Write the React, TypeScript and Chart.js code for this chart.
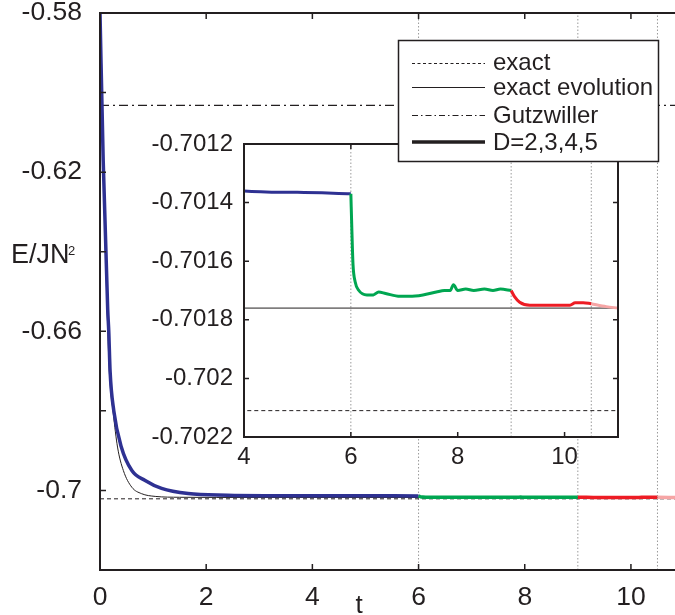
import React, { useEffect, useRef } from 'react';
import { Chart, registerables } from 'chart.js';
Chart.register(...registerables);

// ---------------- data ----------------
const tBlue = [0, 0.06, 0.145, 0.165, 0.19, 0.26, 0.4, 0.6, 0.85, 1.16, 1.66, 2.4, 3.3, 4, 5, 6];
const eBlue = [-0.58, -0.617, -0.6545, -0.66, -0.67, -0.68, -0.689, -0.695, -0.6975, -0.6995, -0.7008, -0.7012, -0.70133, -0.70136, -0.701365, -0.70137];

const tGreen = [6, 6.02, 6.04, 6.08, 6.15, 6.3, 6.42, 6.52, 6.65, 6.92, 7.1, 7.35, 7.6, 7.75, 7.86, 7.92, 8.0, 8.15, 8.3, 8.5, 8.66, 8.8, 9.0];
const eGreen = [-0.70137, -0.7015, -0.70161, -0.70167, -0.7017, -0.701715, -0.701715, -0.701705, -0.70171, -0.70172, -0.70172, -0.701715, -0.701705, -0.7017, -0.7017, -0.70168, -0.7017, -0.701695, -0.7017, -0.701695, -0.7017, -0.701695, -0.7017];

const tRed = [9.0, 9.06, 9.16, 9.35, 9.8, 10.1, 10.2, 10.35, 10.5];
const eRed = [-0.7017, -0.70172, -0.70174, -0.70175, -0.70175, -0.70175, -0.701742, -0.701742, -0.701745];

const tPink = [10.5, 10.78, 11.0];
const ePink = [-0.701745, -0.701755, -0.70176];

const tExactEvo = [0, 0.06, 0.14, 0.175, 0.25, 0.33, 0.44, 0.6, 0.78, 1.04, 1.5, 2.2, 11];
const eExactEvo = [-0.58, -0.618, -0.657, -0.67, -0.6806, -0.6891, -0.695, -0.6992, -0.7008, -0.7015, -0.70172, -0.70176, -0.70176];

const exactEnergy = -0.70211;
const gutzwillerEnergy = -0.6032;
const switchTimes = [6, 9, 10.5];

const mainXTicks = [0, 2, 4, 6, 8, 10];
const mainYTicks = [-0.72, -0.7, -0.68, -0.66, -0.64, -0.62, -0.6, -0.58];
const mainYLabels = ['', '-0.7', '', '-0.66', '', '-0.62', '', '-0.58'];

const insetXTicks = [4, 6, 8, 10];
const insetYTicks = [-0.7022, -0.702, -0.7018, -0.7016, -0.7014, -0.7012];
const insetYLabels = ['-0.7022', '-0.702', '-0.7018', '-0.7016', '-0.7014', '-0.7012'];

const legendLabels = ['exact', 'exact evolution', 'Gutzwiller', 'D=2,3,4,5'];

// ---------------- styles ----------------
const FONT = "'Liberation Sans', Arial, Helvetica, sans-serif";
const INK = '#231f20';
const BLUE = '#2e3192';
const GREEN = '#00a651';
const RED = '#ed1c24';
const PINK = '#f6a5a5';
const DOT = '#9a9a9a';

const pts = (t: number[], e: number[]) => t.map((x, i) => ({ x, y: e[i] }));

function buildDatasets(yMin: number, yMax: number, w: number) {
  const curve = (t: number[], e: number[], color: string, width: number, mono = true) => ({
    data: pts(t, e),
    borderColor: color,
    borderWidth: width,
    pointRadius: 0,
    fill: false,
    cubicInterpolationMode: mono ? 'monotone' : 'default',
    tension: 0,
  });
  const hline = (y: number, dash: number[], width: number) => ({
    data: [{ x: 0, y }, { x: 11, y }],
    borderColor: INK,
    borderWidth: width,
    borderDash: dash,
    pointRadius: 0,
    fill: false,
  });
  const vlines = switchTimes.map((s) => ({
    data: [{ x: s, y: yMin }, { x: s, y: yMax }],
    borderColor: DOT,
    borderWidth: 1,
    borderDash: [1.5, 2],
    pointRadius: 0,
    fill: false,
  }));
  return [
    curve(tPink, ePink, PINK, w),
    curve(tRed, eRed, RED, w),
    curve(tGreen, eGreen, GREEN, w),
    curve(tBlue, eBlue, BLUE, w),
    curve(tExactEvo, eExactEvo, INK, 1),
    hline(exactEnergy, [4, 3], 1),
    hline(gutzwillerEnergy, [9, 4, 2, 4], 1.3),
    ...vlines,
  ];
}

const framePlugin = {
  id: 'frame',
  beforeDatasetsDraw(chart: any, _a: any, opts: any) {
    if (!opts.fill) return;
    const { ctx, chartArea: a } = chart;
    ctx.save();
    ctx.fillStyle = '#ffffff';
    ctx.fillRect(a.left, a.top, a.right - a.left, a.bottom - a.top);
    ctx.restore();
  },
  afterDatasetsDraw(chart: any, _a: any, opts: any) {
    const { ctx, chartArea: a, scales } = chart;
    const x = scales.x;
    const y = scales.y;
    ctx.save();
    ctx.strokeStyle = INK;
    ctx.lineWidth = opts.lineWidth;
    ctx.lineCap = 'square';
    ctx.beginPath();
    ctx.moveTo(a.left, a.top);
    ctx.lineTo(a.left, a.bottom);
    ctx.lineTo(a.right + (opts.right ? 0 : 2), a.bottom);
    ctx.moveTo(a.left, a.top);
    ctx.lineTo(a.right + (opts.right ? 0 : 2), a.top);
    if (opts.right) {
      ctx.moveTo(a.right, a.top);
      ctx.lineTo(a.right, a.bottom);
    }
    ctx.stroke();
    const L = opts.tickLen;
    ctx.lineWidth = 1.5;
    ctx.lineCap = 'butt';
    ctx.beginPath();
    x.ticks.forEach((t: any) => {
      const px = x.getPixelForValue(t.value);
      ctx.moveTo(px, a.bottom);
      ctx.lineTo(px, a.bottom - L);
      ctx.moveTo(px, a.top);
      ctx.lineTo(px, a.top + L);
    });
    y.ticks.forEach((t: any) => {
      const py = y.getPixelForValue(t.value);
      ctx.moveTo(a.left, py);
      ctx.lineTo(a.left + L, py);
      if (opts.right) {
        ctx.moveTo(a.right, py);
        ctx.lineTo(a.right - L, py);
      }
    });
    ctx.stroke();
    ctx.restore();
  },
};

function makeConfig(p: {
  xMin: number; xMax: number; yMin: number; yMax: number;
  xTicks: number[]; yTicks: number[]; yLabels: string[];
  yWidth: number; xHeight: number; padTop: number; padRight: number;
  xPad: number; yPad: number; fontSize: number; fill: boolean; right: boolean;
  tickLen: number; lineW: number;
}) {
  return {
    type: 'line',
    data: { datasets: buildDatasets(p.yMin, p.yMax, p.lineW) },
    plugins: [framePlugin],
    options: {
      responsive: false,
      maintainAspectRatio: false,
      animation: false,
      events: [],
      layout: { padding: { top: p.padTop, right: p.padRight, left: 0, bottom: 0 } },
      plugins: {
        legend: { display: false },
        tooltip: { enabled: false },
        frame: { fill: p.fill, right: p.right, tickLen: p.tickLen, lineWidth: 2 },
      },
      scales: {
        x: {
          type: 'linear',
          min: p.xMin,
          max: p.xMax,
          grid: { display: false, drawTicks: false },
          border: { display: false },
          afterBuildTicks: (s: any) => { s.ticks = p.xTicks.map((v) => ({ value: v })); },
          afterFit: (s: any) => {
            s.height = p.xHeight;
            s.paddingLeft = 0; s.paddingRight = 0; s.paddingTop = 0; s.paddingBottom = 0;
          },
          ticks: {
            autoSkip: false,
            maxRotation: 0,
            padding: p.xPad,
            color: INK,
            font: { family: FONT, size: p.fontSize, lineHeight: 1 },
            callback: (v: any) => String(v),
          },
        },
        y: {
          type: 'linear',
          min: p.yMin,
          max: p.yMax,
          grid: { display: false, drawTicks: false },
          border: { display: false },
          afterBuildTicks: (s: any) => { s.ticks = p.yTicks.map((v) => ({ value: v })); },
          afterFit: (s: any) => {
            s.width = p.yWidth;
            s.paddingLeft = 0; s.paddingRight = 0; s.paddingTop = 0; s.paddingBottom = 0;
          },
          ticks: {
            autoSkip: false,
            padding: p.yPad,
            color: INK,
            font: { family: FONT, size: p.fontSize, lineHeight: 1 },
            callback: (v: any) => {
              const i = p.yTicks.findIndex((t) => Math.abs(t - v) < 1e-9);
              return i >= 0 ? p.yLabels[i] : '';
            },
          },
        },
      },
    },
  };
}

export default function App() {
  const mainRef = useRef<HTMLCanvasElement>(null);
  const insetRef = useRef<HTMLCanvasElement>(null);

  useEffect(() => {
    document.body.style.margin = '0';
    const main = new Chart(mainRef.current as any, makeConfig({
      xMin: 0, xMax: 10.83, yMin: -0.72, yMax: -0.58,
      xTicks: mainXTicks, yTicks: mainYTicks, yLabels: mainYLabels,
      yWidth: 100, xHeight: 45, padTop: 13, padRight: 0,
      xPad: 14, yPad: 18, fontSize: 26.5, fill: false, right: false,
      tickLen: 6, lineW: 3.5,
    }) as any);
    const inset = new Chart(insetRef.current as any, makeConfig({
      xMin: 4, xMax: 11, yMin: -0.7022, yMax: -0.7012,
      xTicks: insetXTicks, yTicks: insetYTicks, yLabels: insetYLabels,
      yWidth: 114, xHeight: 38, padTop: 19, padRight: 12,
      xPad: 8, yPad: 11, fontSize: 24, fill: true, right: true,
      tickLen: 5, lineW: 3,
    }) as any);
    return () => { main.destroy(); inset.destroy(); };
  }, []);

  const legendY = [63.5, 87.5, 115.5, 142];
  const textY = [69.5, 95, 122.5, 150];
  const dashes = ['3 2.5', undefined, '6 3 1.5 3', undefined];
  const widths = [1, 1, 1.2, 3.5];

  return (
    <div style={{ position: 'relative', width: 675, height: 615, overflow: 'hidden', background: '#fff' }}>
      <canvas ref={mainRef} width={675} height={615}
        style={{ position: 'absolute', left: 0, top: 0, width: 675, height: 615 }} />
      <canvas ref={insetRef} width={500} height={350}
        style={{ position: 'absolute', left: 130, top: 125, width: 500, height: 350 }} />
      <svg width={675} height={615} style={{ position: 'absolute', left: 0, top: 0, pointerEvents: 'none' }}>
        <rect x={398.5} y={40.5} width={260} height={121} fill="#fff" stroke={INK} strokeWidth={1.5} />
        {legendLabels.map((lab, i) => (
          <g key={lab}>
            <line x1={412} x2={485} y1={legendY[i]} y2={legendY[i]} stroke={INK}
              strokeWidth={widths[i]} strokeDasharray={dashes[i]} />
            <text x={493} y={textY[i]} fontFamily={FONT} fontSize={24} fill={INK}>{lab}</text>
          </g>
        ))}
        <text x={11} y={263} fontFamily={FONT} fontSize={27} fill={INK}>E/JN</text>
        <text x={68} y={255} fontFamily={FONT} fontSize={13} fill={INK}>2</text>
        <text x={359} y={613} textAnchor="middle" fontFamily={FONT} fontSize={26} fill={INK}>t</text>
      </svg>
    </div>
  );
}
